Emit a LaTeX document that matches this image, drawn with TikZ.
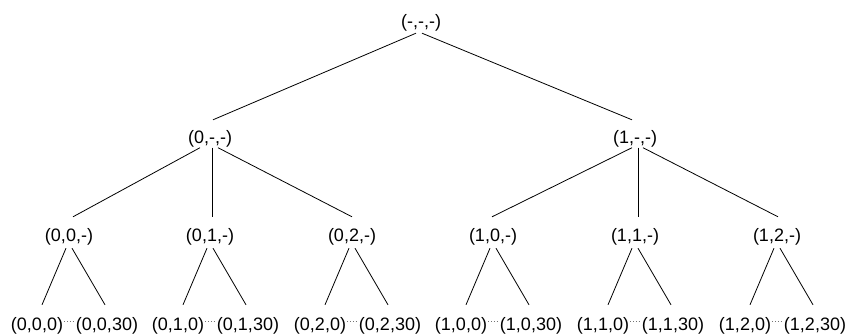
\documentclass[tikz,border=0pt]{standalone}
\usepackage{fontspec}
\setmainfont{Liberation Sans}
\begin{document}
\begin{tikzpicture}[x=1pt,y=-1pt,
  lbl/.style={anchor=base, inner sep=0pt, text height=13pt, text depth=4pt, font=\fontsize{18}{20}\selectfont},
  edge/.style={black, line width=0.8pt},
  dots/.style={black!55, dotted, line width=0.8pt, shorten <=1pt, shorten >=1pt}]
\useasboundingbox (0,0) rectangle (852,333);
% root
\node[lbl] (r) at (421,27) {(-,-,-)};
% level 1
\node[lbl] (a) at (210,143) {(0,-,-)};
\node[lbl] (b) at (635,143) {(1,-,-)};
% level 2
\node[lbl] (a0) at (69,241) {(0,0,-)};
\node[lbl] (a1) at (210,241) {(0,1,-)};
\node[lbl] (a2) at (352,241) {(0,2,-)};
\node[lbl] (b0) at (493,241) {(1,0,-)};
\node[lbl] (b1) at (635,241) {(1,1,-)};
\node[lbl] (b2) at (777,241) {(1,2,-)};
% leaves
\node[lbl] (a0l) at (37,330) {(0,0,0)};
\node[lbl] (a0r) at (107,330) {(0,0,30)};
\node[lbl] (a1l) at (178,330) {(0,1,0)};
\node[lbl] (a1r) at (248,330) {(0,1,30)};
\node[lbl] (a2l) at (320,330) {(0,2,0)};
\node[lbl] (a2r) at (390,330) {(0,2,30)};
\node[lbl] (b0l) at (461,330) {(1,0,0)};
\node[lbl] (b0r) at (531,330) {(1,0,30)};
\node[lbl] (b1l) at (603,330) {(1,1,0)};
\node[lbl] (b1r) at (673,330) {(1,1,30)};
\node[lbl] (b2l) at (745,330) {(1,2,0)};
\node[lbl] (b2r) at (815,330) {(1,2,30)};
% root edges
\draw[edge] ([xshift=-5pt,yshift=-2pt]r.south) -- ([xshift=3pt,yshift=10pt]a.north);
\draw[edge] ([xshift=1pt,yshift=-2pt]r.south) -- ([xshift=-3pt,yshift=10pt]b.north);
% level 1 edges
\draw[edge] ([xshift=-10pt,yshift=-0.5pt]a.south) -- ([xshift=4pt,yshift=11pt]a0.north);
\draw[edge] ([xshift=2pt,yshift=-0.5pt]a.south) -- ([xshift=2pt,yshift=11pt]a1.north);
\draw[edge] ([xshift=8pt,yshift=-0.5pt]a.south) -- ([xshift=0pt,yshift=11pt]a2.north);
\draw[edge] ([xshift=-3pt,yshift=-0.5pt]b.south) -- ([xshift=-1pt,yshift=11pt]b0.north);
\draw[edge] ([xshift=3pt,yshift=-0.5pt]b.south) -- ([xshift=3pt,yshift=11pt]b1.north);
\draw[edge] ([xshift=8pt,yshift=-0.5pt]b.south) -- ([xshift=1pt,yshift=11pt]b2.north);
% level 2 edges
\foreach \p in {a0,a1,a2,b0,b1,b2}{
  \draw[edge] ([xshift=-3pt,yshift=-3pt]\p.south) -- ([xshift=5pt,yshift=12pt]\p l.north);
  \draw[edge] ([xshift=3pt,yshift=-3pt]\p.south) -- ([xshift=-2pt,yshift=12pt]\p r.north);
  \draw[dots] ([yshift=4pt]\p l.east) -- ([yshift=4pt]\p r.west);
}
\end{tikzpicture}
\end{document}
